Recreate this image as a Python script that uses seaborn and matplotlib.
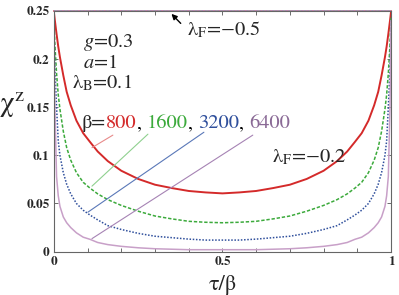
import numpy as np
import pandas as pd
import matplotlib
matplotlib.use("Agg")
import matplotlib.pyplot as plt
import seaborn as sns

# tau / beta grid
tau = [0, 0.003, 0.008, 0.013, 0.018, 0.028, 0.038, 0.05, 0.067, 0.087,
       0.107, 0.13, 0.16, 0.2, 0.25, 0.3, 0.35, 0.4, 0.45, 0.5,
       0.55, 0.6, 0.65, 0.7, 0.75, 0.8, 0.84, 0.87, 0.893, 0.913,
       0.933, 0.95, 0.962, 0.972, 0.982, 0.987, 0.992, 0.997, 1.0]

# lambda_F = -0.2 curves
chi_800 = [0.249, 0.240, 0.226, 0.213, 0.202, 0.183, 0.166, 0.152, 0.136, 0.123,
           0.114, 0.104, 0.094, 0.084, 0.0755, 0.0695, 0.066, 0.063, 0.0615, 0.0605,
           0.0615, 0.063, 0.066, 0.0695, 0.0755, 0.084, 0.094, 0.104, 0.114, 0.123,
           0.136, 0.152, 0.166, 0.183, 0.202, 0.213, 0.226, 0.240, 0.249]
chi_1600 = [0.245, 0.215, 0.185, 0.163, 0.148, 0.125, 0.108, 0.095, 0.082, 0.072,
            0.066, 0.060, 0.054, 0.048, 0.042, 0.037, 0.034, 0.0315, 0.0305, 0.030,
            0.0305, 0.0315, 0.034, 0.037, 0.042, 0.048, 0.054, 0.060, 0.066, 0.072,
            0.082, 0.095, 0.108, 0.125, 0.148, 0.163, 0.185, 0.215, 0.245]
chi_3200 = [0.240, 0.190, 0.150, 0.115, 0.100, 0.082, 0.070, 0.060, 0.050, 0.043,
            0.038, 0.033, 0.027, 0.023, 0.019, 0.016, 0.0145, 0.013, 0.012, 0.012,
            0.012, 0.013, 0.0145, 0.016, 0.019, 0.023, 0.027, 0.033, 0.038, 0.043,
            0.050, 0.060, 0.070, 0.082, 0.100, 0.115, 0.150, 0.190, 0.240]
chi_6400 = [0.240, 0.150, 0.078, 0.058, 0.047, 0.036, 0.030, 0.025, 0.0195, 0.015,
            0.0128, 0.0095, 0.0073, 0.0055, 0.004, 0.003, 0.0025, 0.002, 0.002, 0.002,
            0.002, 0.002, 0.0025, 0.003, 0.004, 0.0055, 0.0073, 0.0095, 0.0128, 0.015,
            0.0195, 0.025, 0.030, 0.036, 0.047, 0.058, 0.078, 0.150, 0.240]

# lambda_F = -0.5 curves sit on the 0.25 line
chi_flat = 0.25

betas = ["800", "1600", "3200", "6400"]
curve_colors = ["#d42a2a", "#3caa3c", "#2f4f9c", "#c8a0c8"]
text_colors = ["#d42a2a", "#3caa3c", "#2f4f9c", "#8a6a96"]
leader_colors = ["#e88a8a", "#8fd08f", "#5a78b8", "#a683b4"]
styles = ["-", (0, (2.2, 1.2)), (0, (1, 1.1)), "-"]
widths = [1.4, 1.1, 1.1, 1.1]

sns.set_style("ticks")
plt.rcParams["font.family"] = ["STIXGeneral", "DejaVu Serif"]
plt.rcParams["mathtext.fontset"] = "stix"

fig = plt.figure(figsize=(3.99, 2.95), dpi=100)
ax = fig.add_axes([0.135, 0.147, 0.845, 0.816])

for b, ys, c, ls, lw in zip(betas, [chi_800, chi_1600, chi_3200, chi_6400],
                            curve_colors, styles, widths):
    sns.lineplot(x=tau, y=ys, color=c, linestyle=ls, linewidth=lw, ax=ax)
    sns.lineplot(x=[0, 1], y=[chi_flat, chi_flat], color=c, linestyle=ls,
                 linewidth=lw, ax=ax, clip_on=False)

ax.set_xlim(0, 1)
ax.set_ylim(0, 0.25)
ax.set_xticks([0, 0.5, 1])
ax.set_xticklabels(["0", "0.5", "1"])
ax.set_xticks(np.arange(0, 1.01, 0.1), minor=True)
ax.set_yticks([0, 0.05, 0.1, 0.15, 0.2, 0.25])
ax.set_yticklabels(["0", "0.05", "0.1", "0.15", "0.2", "0.25"])
ax.tick_params(which="both", direction="in", top=True, right=True,
               length=3, width=0.6, color="#555555", labelsize=9.5, pad=3)
for lab in ax.get_xticklabels() + ax.get_yticklabels():
    lab.set_fontweight("bold")
for s in ax.spines.values():
    s.set_color("#666666")
    s.set_linewidth(0.8)

ax.set_xlabel("τ/β", fontsize=16, labelpad=5)
ax.set_ylabel("χ$^{\\rm z}$", fontsize=21, rotation=0, labelpad=14)
ax.yaxis.set_label_coords(-0.125, 0.545)

fs = 14.7
ax.text(0.086, 0.2123, "$g$=0.3", fontsize=fs, va="baseline")
ax.text(0.086, 0.1905, "$a$=1", fontsize=fs, va="baseline")
ax.text(0.054, 0.1698, "λ$_{\\rm B}$=0.1", fontsize=fs, va="baseline")

# beta legend line
x0 = 0.083
yb = 0.1283
ax.text(x0, yb, "β=", fontsize=fs, va="baseline")
parts = ["800", ", ", "1600", ", ", "3200", ", ", "6400"]
cols = [text_colors[0], "black", text_colors[1], "black", text_colors[2], "black", text_colors[3]]
fig.canvas.draw()
renderer = fig.canvas.get_renderer()
t = ax.texts[-1]
bb = t.get_window_extent(renderer)
xpix = bb.x1
for p, c in zip(parts, cols):
    xd = ax.transData.inverted().transform((xpix, 0))[0]
    tt = ax.text(xd, yb, p, fontsize=fs, va="baseline", color=c)
    xpix = tt.get_window_extent(renderer).x1

# leader lines from labels to curves
leaders = [((0.175, 0.121), (0.113, 0.108)),
           ((0.279, 0.122), (0.113, 0.068)),
           ((0.445, 0.124), (0.101, 0.041)),
           ((0.590, 0.121), (0.113, 0.0135))]
for (p0, p1), c in zip(leaders, leader_colors):
    ax.plot([p0[0], p1[0]], [p0[1], p1[1]], color=c, linewidth=0.8)

ax.text(0.395, 0.2248, "λ$_{\\rm F}$=−0.5", fontsize=fs, va="baseline")
ax.annotate("", xy=(0.343, 0.249), xytext=(0.382, 0.235),
            arrowprops=dict(arrowstyle="-|>", color="black", lw=1.0,
                            mutation_scale=8))
ax.text(0.648, 0.093, "λ$_{\\rm F}$=−0.2", fontsize=fs, va="baseline")

fig.savefig("out.png", dpi=100)
